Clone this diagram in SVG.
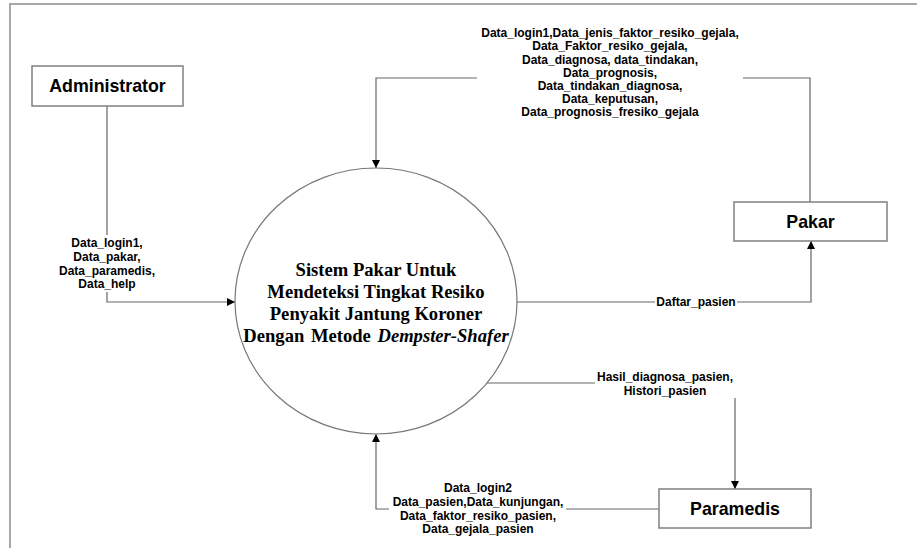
<svg xmlns="http://www.w3.org/2000/svg" width="917" height="548" viewBox="0 0 917 548">
<defs>
<marker id="ah" viewBox="0 0 10 10" refX="10" refY="5" markerWidth="8" markerHeight="8" markerUnits="userSpaceOnUse" orient="auto">
<path d="M0,0 L10,5 L0,10 z" fill="#000"/>
</marker>
<style>
.frame{fill:none;stroke:#a8a8a8;stroke-width:2}
.box{fill:#fff;stroke:#808080;stroke-width:1.5}
.ent{font-family:"Liberation Sans",Arial,sans-serif;font-weight:bold;font-size:17.8px;fill:#000;text-anchor:middle}
.lbl{font-family:"Liberation Sans",Arial,sans-serif;font-weight:bold;font-size:12px;fill:#000;text-anchor:middle}
.lblbg{fill:#fff}
.con{fill:none;stroke:#666;stroke-width:1.2}
.proc{fill:#fff;stroke:#777;stroke-width:1.2}
.ptxt{font-family:"Liberation Serif","Times New Roman",serif;font-weight:bold;font-size:18.6px;fill:#000;text-anchor:middle}
</style>
</defs>
<rect width="917" height="548" fill="#fff"/>
<path class="frame" d="M10,560 L10,4 L930,4"/>

<g id="connectors">
<path class="con" d="M107,106 L107,302 L235,302" marker-end="url(#ah)"/>
<path class="con" d="M810,202 L810,78 L376,78 L376,168" marker-end="url(#ah)"/>
<path class="con" d="M517,302 L811,302 L811,241" marker-end="url(#ah)"/>
<path class="con" d="M487,383 L735,383 L735,489" marker-end="url(#ah)"/>
<path class="con" d="M659,509 L376,509 L376,434" marker-end="url(#ah)"/>

<g id="lbl-admin">
<rect class="lblbg" x="57" y="235" width="100" height="57"/>
<text class="lbl" x="107" y="247">Data_login1,</text>
<text class="lbl" x="107" y="261">Data_pakar,</text>
<text class="lbl" x="107" y="275">Data_paramedis,</text>
<text class="lbl" x="107" y="288">Data_help</text>
</g>
<g id="lbl-pakar-in">
<rect class="lblbg" x="477" y="26" width="266" height="96"/>
<text class="lbl" x="610" y="37">Data_login1,Data_jenis_faktor_resiko_gejala,</text>
<text class="lbl" x="610" y="50">Data_Faktor_resiko_gejala,</text>
<text class="lbl" x="610" y="64">Data_diagnosa, data_tindakan,</text>
<text class="lbl" x="610" y="77">Data_prognosis,</text>
<text class="lbl" x="610" y="90">Data_tindakan_diagnosa,</text>
<text class="lbl" x="610" y="103">Data_keputusan,</text>
<text class="lbl" x="610" y="116">Data_prognosis_fresiko_gejala</text>
</g>
<g id="lbl-daftar">
<rect class="lblbg" x="655" y="295" width="82" height="14"/>
<text class="lbl" x="696" y="306">Daftar_pasien</text>
</g>
<g id="lbl-hasil">
<rect class="lblbg" x="595" y="372" width="141" height="26"/>
<text class="lbl" x="665" y="381">Hasil_diagnosa_pasien,</text>
<text class="lbl" x="665" y="395">Histori_pasien</text>
</g>
<g id="lbl-paramedis">
<rect class="lblbg" x="389" y="480" width="177" height="56"/>
<text class="lbl" x="478" y="492">Data_login2</text>
<text class="lbl" x="478" y="506">Data_pasien,Data_kunjungan,</text>
<text class="lbl" x="478" y="520">Data_faktor_resiko_pasien,</text>
<text class="lbl" x="478" y="533">Data_gejala_pasien</text>
</g>
</g>

<g id="process">
<ellipse class="proc" cx="376" cy="301" rx="141" ry="133"/>
<text class="ptxt" x="376" y="276">Sistem Pakar Untuk</text>
<text class="ptxt" x="376" y="298">Mendeteksi Tingkat Resiko</text>
<text class="ptxt" x="376" y="320">Penyakit Jantung Koroner</text>
<text class="ptxt" x="376" y="342" word-spacing="2">Dengan Metode <tspan font-style="italic">Dempster-Shafer</tspan></text>
</g>

<g id="administrator">
<rect class="box" x="32" y="66" width="151" height="40"/>
<text class="ent" x="107.5" y="92">Administrator</text>
</g>
<g id="pakar">
<rect class="box" x="734" y="202" width="153" height="39"/>
<text class="ent" x="810.5" y="228">Pakar</text>
</g>
<g id="paramedis">
<rect class="box" x="659" y="489" width="152" height="39"/>
<text class="ent" x="735" y="515">Paramedis</text>
</g>
</svg>
